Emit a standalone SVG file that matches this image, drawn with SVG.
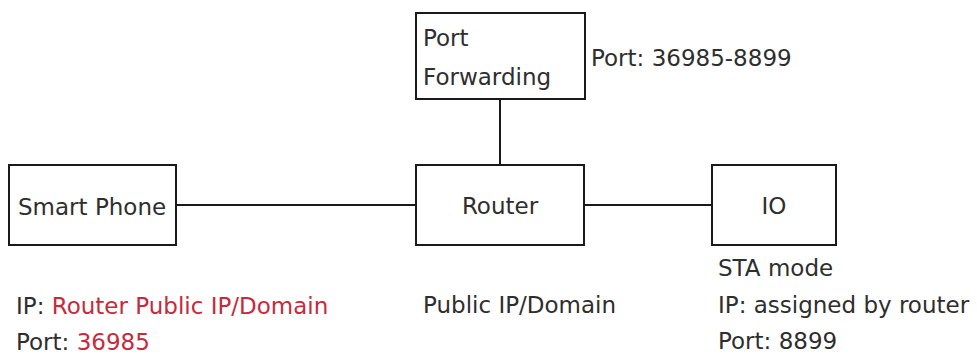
<svg xmlns="http://www.w3.org/2000/svg" width="977" height="358" viewBox="0 0 977 358">
<style>
.box{fill:#fff;stroke:#1a1a1a;stroke-width:2}
.line{stroke:#1a1a1a;stroke-width:2;fill:none}
text{font-family:"DejaVu Sans","Liberation Sans",sans-serif;font-size:23px;fill:#2e2e2e}
.red{fill:#c62a3c}
.mid{text-anchor:middle}
</style>
<rect width="977" height="358" fill="#fff"/>
<g id="connectors">
<line class="line" x1="500" y1="99" x2="500" y2="165"/>
<line class="line" x1="176" y1="205" x2="416" y2="205"/>
<line class="line" x1="584" y1="205" x2="712" y2="205"/>
</g>
<g id="port-forwarding">
<rect class="box" x="416" y="13" width="169" height="86"/>
<text x="423" y="46">Port</text>
<text x="423" y="85">Forwarding</text>
</g>
<text x="591" y="66">Port: 36985-8899</text>
<g id="smart-phone">
<rect class="box" x="9" y="165" width="167" height="80"/>
<text x="18" y="215">Smart Phone</text>
</g>
<g id="router">
<rect class="box" x="416" y="165" width="168" height="80"/>
<text class="mid" x="500" y="214">Router</text>
</g>
<g id="io">
<rect class="box" x="712" y="165" width="124" height="80"/>
<text class="mid" x="774" y="214">IO</text>
</g>
<text x="16" y="314">IP: <tspan class="red">Router Public IP/Domain</tspan></text>
<text x="16" y="350">Port: <tspan class="red">36985</tspan></text>
<text x="423" y="313">Public IP/Domain</text>
<text x="718" y="276">STA mode</text>
<text x="718" y="313">IP: assigned by router</text>
<text x="718" y="349">Port: 8899</text>
</svg>
